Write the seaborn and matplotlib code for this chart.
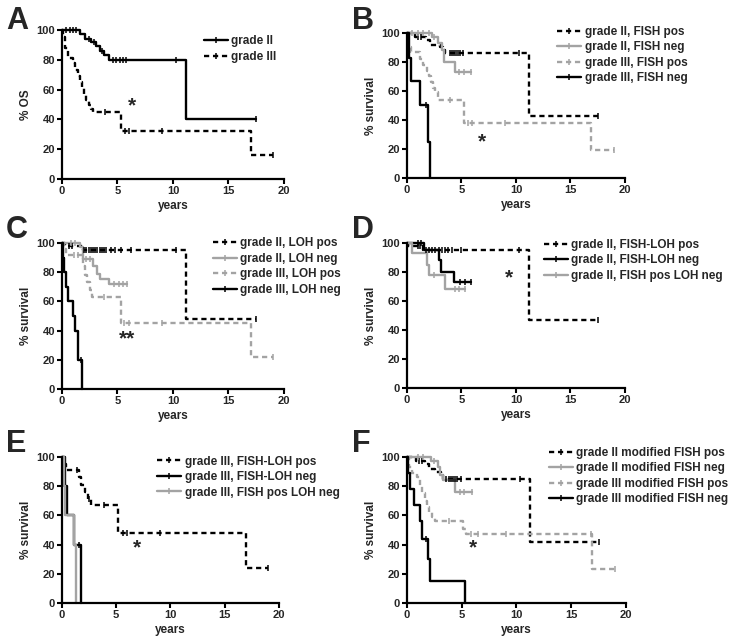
import numpy as np
import matplotlib
matplotlib.use('Agg')
import matplotlib.pyplot as plt
from matplotlib.lines import Line2D
import seaborn as sns

# ---- Panel A ----
a_g2_t = [0, 1.6, 2.1, 2.6, 3.1, 3.4, 3.8, 4.2, 11.2]
a_g2_s = [100, 97, 94, 92, 89, 86, 83, 80, 40]
a_g2_c = [0.4, 0.7, 1.0, 1.3, 2.4, 2.9, 3.6, 4.6, 4.9, 5.2, 5.5, 5.8, 10.3, 17.5]
a_g3_t = [0, 0.1, 0.3, 0.5, 1.0, 1.2, 1.4, 1.6, 1.8, 2.0, 2.2, 2.4, 2.6, 2.8, 5.3, 17.0]
a_g3_s = [100, 95, 88, 81, 78, 73, 69, 65, 61, 57, 53, 50, 47, 45, 32, 16]
a_g3_c = [3.9, 5.7, 6.0, 9.0, 19.0]

# ---- Panel B ----
b_g2pos_t = [0, 0.7, 1.7, 2.1, 3.0, 3.3, 3.5, 11.2]
b_g2pos_s = [100, 97, 95, 92, 90, 88, 86, 43]
b_g2pos_c = [1.0, 1.3, 3.9, 4.1, 4.3, 4.5, 4.7, 4.9, 5.1, 10.3, 17.5]
b_g2neg_t = [0, 2.3, 2.8, 3.2, 3.4, 4.4]
b_g2neg_s = [100, 97, 93, 88, 80, 73]
b_g2neg_c = [0.5, 1.0, 1.5, 2.0, 2.5, 4.8, 5.2, 5.9]
b_g3pos_t = [0, 0.1, 0.4, 1.2, 1.5, 1.8, 2.0, 2.2, 2.4, 2.6, 2.8, 5.2, 16.9]
b_g3pos_s = [100, 90, 87, 82, 78, 74, 70, 66, 62, 59, 54, 38, 19]
b_g3pos_c = [3.9, 5.6, 6.0, 9.0, 19.0]
b_g3neg_t = [0, 0.15, 0.4, 1.2, 1.9, 2.1]
b_g3neg_s = [100, 83, 67, 50, 25, 0]
b_g3neg_c = [1.7]

# ---- Panel C ----
c_g2pos_t = [0, 0.3, 1.9, 11.2]
c_g2pos_s = [100, 98, 95, 48]
c_g2pos_c = [0.6, 0.9, 2.0, 2.2, 2.4, 2.6, 2.8, 3.0, 3.2, 3.4, 3.6, 3.8, 4.0, 4.4, 4.8, 5.3, 6.2, 10.3, 17.5]
c_g2neg_t = [0, 1.6, 1.9, 2.8, 3.2, 3.4, 4.2]
c_g2neg_s = [100, 97, 89, 84, 79, 75, 72]
c_g2neg_c = [0.8, 1.2, 2.2, 2.5, 4.7, 5.1, 5.5, 5.9]
c_g3pos_t = [0, 0.2, 0.4, 1.9, 2.1, 2.3, 2.5, 2.7, 5.3, 17.0]
c_g3pos_s = [100, 96, 92, 84, 78, 73, 68, 63, 45, 22]
c_g3pos_c = [1.1, 1.4, 3.8, 5.6, 6.0, 9.0, 19.0]
c_g3neg_t = [0, 0.1, 0.2, 0.35, 0.5, 1.0, 1.2, 1.4, 1.85]
c_g3neg_s = [100, 90, 80, 70, 60, 50, 40, 20, 0]
c_g3neg_c = [1.7]

# ---- Panel D ----
d_pos_t = [0, 0.05, 1.5, 11.2]
d_pos_s = [100, 98, 95, 47]
d_pos_c = [1.0, 1.2, 1.7, 2.0, 2.3, 2.6, 2.9, 3.2, 3.5, 3.8, 4.1, 5.0, 10.3, 17.5]
d_neg_t = [0, 1.6, 2.9, 3.1, 4.3]
d_neg_s = [100, 95, 88, 80, 73]
d_neg_c = [1.0, 1.3, 4.9, 5.3, 5.9]
d_mix_t = [0, 0.5, 1.8, 2.0, 3.5]
d_mix_s = [100, 93, 85, 78, 68]
d_mix_c = [2.5, 4.4, 4.8, 5.3]

# ---- Panel E ----
e_pos_t = [0, 0.2, 0.4, 1.6, 1.8, 2.1, 2.4, 2.7, 5.2, 17.0]
e_pos_s = [100, 95, 91, 86, 81, 76, 71, 67, 48, 24]
e_pos_c = [1.4, 2.5, 3.9, 5.6, 6.0, 9.0, 19.0]
e_neg_t = [0, 0.3, 0.5, 1.1, 1.8]
e_neg_s = [100, 80, 60, 40, 0]
e_neg_c = [1.6]
e_mix_t = [0, 0.15, 0.25, 1.1, 1.3]
e_mix_s = [100, 80, 60, 40, 0]
e_mix_c = []

# ---- Panel F ----
f_g2pos_t = [0, 0.8, 1.6, 2.0, 2.6, 3.1, 3.3, 11.2]
f_g2pos_s = [100, 97, 95, 92, 90, 88, 85, 42]
f_g2pos_c = [1.1, 1.4, 3.6, 3.8, 4.0, 4.2, 4.4, 4.6, 4.9, 10.3, 17.5]
f_g2neg_t = [0, 2.2, 2.8, 3.0, 3.3, 4.4]
f_g2neg_s = [100, 97, 93, 88, 84, 76]
f_g2neg_c = [1.0, 1.5, 2.5, 4.8, 5.2, 5.9]
f_g3pos_t = [0, 0.2, 0.5, 0.9, 1.2, 1.4, 1.6, 1.8, 2.0, 2.3, 2.6, 5.1, 5.4, 16.9]
f_g3pos_s = [100, 93, 89, 86, 80, 75, 70, 66, 62, 59, 56, 51, 47, 23]
f_g3pos_c = [3.8, 5.8, 6.5, 9.0, 16.8, 19.0]
f_g3neg_t = [0, 0.1, 0.3, 0.6, 1.2, 1.4, 1.9, 2.1, 5.3]
f_g3neg_s = [100, 89, 78, 67, 56, 44, 30, 15, 0]
f_g3neg_c = [1.7]

BLACK = '#000000'
GREY = '#a3a3a3'
DASH = (0, (2.2, 1.6))

panels = [
    ('A', '% OS', [0.085, 0.7216, 0.3045, 0.2317], (0.64, 0.965), (6.3, 49, '*'), [
        ('grade II', a_g2_t, a_g2_s, a_g2_c, BLACK, '-'),
        ('grade III', a_g3_t, a_g3_s, a_g3_c, BLACK, DASH)]),
    ('B', '% survival', [0.5583, 0.7232, 0.299, 0.2255], (0.69, 1.05), (6.9, 25, '*'), [
        ('grade II, FISH pos', b_g2pos_t, b_g2pos_s, b_g2pos_c, BLACK, DASH),
        ('grade II, FISH neg', b_g2neg_t, b_g2neg_s, b_g2neg_c, GREY, '-'),
        ('grade III, FISH pos', b_g3pos_t, b_g3pos_s, b_g3pos_c, GREY, DASH),
        ('grade III, FISH neg', b_g3neg_t, b_g3neg_s, b_g3neg_c, BLACK, '-')]),
    ('C', '% survival', [0.085, 0.395, 0.3045, 0.2271], (0.68, 1.04), (5.9, 34, '**'), [
        ('grade II, LOH pos', c_g2pos_t, c_g2pos_s, c_g2pos_c, BLACK, DASH),
        ('grade II, LOH neg', c_g2neg_t, c_g2neg_s, c_g2neg_c, GREY, '-'),
        ('grade III, LOH pos', c_g3pos_t, c_g3pos_s, c_g3pos_c, GREY, DASH),
        ('grade III, LOH neg', c_g3neg_t, c_g3neg_s, c_g3neg_c, BLACK, '-')]),
    ('D', '% survival', [0.5583, 0.3966, 0.299, 0.2255], (0.63, 1.03), (9.4, 76, '*'), [
        ('grade II, FISH-LOH pos', d_pos_t, d_pos_s, d_pos_c, BLACK, DASH),
        ('grade II, FISH-LOH neg', d_neg_t, d_neg_s, d_neg_c, BLACK, '-'),
        ('grade II, FISH pos LOH neg', d_mix_t, d_mix_s, d_mix_c, GREY, '-')]),
    ('E', '% survival', [0.085, 0.0622, 0.2977, 0.2271], (0.44, 1.01), (6.9, 38, '*'), [
        ('grade III, FISH-LOH pos', e_pos_t, e_pos_s, e_pos_c, BLACK, DASH),
        ('grade III, FISH-LOH neg', e_neg_t, e_neg_s, e_neg_c, BLACK, '-'),
        ('grade III, FISH pos LOH neg', e_mix_t, e_mix_s, e_mix_c, GREY, '-')]),
    ('F', '% survival', [0.5583, 0.0622, 0.3004, 0.2271], (0.65, 1.07), (6.0, 38, '*'), [
        ('grade II modified FISH pos', f_g2pos_t, f_g2pos_s, f_g2pos_c, BLACK, DASH),
        ('grade II modified FISH neg', f_g2neg_t, f_g2neg_s, f_g2neg_c, GREY, '-'),
        ('grade III modified FISH pos', f_g3pos_t, f_g3pos_s, f_g3pos_c, GREY, DASH),
        ('grade III modified FISH neg', f_g3neg_t, f_g3neg_s, f_g3neg_c, BLACK, '-')]),
]

letter_pos = {'A': (0.008, 0.99), 'B': (0.483, 0.99), 'C': (0.008, 0.665),
              'D': (0.483, 0.665), 'E': (0.008, 0.333), 'F': (0.483, 0.333)}

sns.set_theme(style='ticks')
plt.rcParams['font.family'] = ['Liberation Sans', 'DejaVu Sans']
plt.rcParams['font.weight'] = 'bold'
plt.rcParams['axes.labelweight'] = 'bold'


def surv_at(t, times, surv):
    i = np.searchsorted(times, t, side='right') - 1
    return surv[max(i, 0)]


fig = plt.figure(figsize=(7.29, 6.43), dpi=100)

for letter, ylab, rect, leg_xy, star, curves in panels:
    ax = fig.add_axes(rect)
    handles = []
    labels = []
    for label, times, surv, cens, color, ls in curves:
        xs = list(times)
        ys = list(surv)
        # extend the last step out to the final censored patient
        if cens and surv[-1] > 0 and max(cens) > times[-1]:
            xs.append(max(cens))
            ys.append(surv[-1])
        sns.lineplot(x=xs, y=ys, ax=ax, color=color, linewidth=1.7, linestyle=ls,
                     drawstyle='steps-post', estimator=None, sort=False,
                     legend=False, clip_on=False)
        if cens:
            cy = [surv_at(c, times, surv) for c in cens]
            sns.scatterplot(x=cens, y=cy, ax=ax, marker='|', s=14, color=color,
                            linewidth=1.1, legend=False, clip_on=False, zorder=3)
        handles.append(Line2D([], [], color=color, linewidth=1.7, linestyle=ls,
                              marker='|', markersize=4, markeredgewidth=1.1))
        labels.append(label)

    ax.set_xlim(0, 20)
    ax.set_ylim(0, 100)
    ax.set_xticks([0, 5, 10, 15, 20])
    ax.set_yticks([0, 20, 40, 60, 80, 100])
    ax.set_xlabel('years', fontsize=8.5, fontweight='bold', labelpad=3)
    ax.set_ylabel(ylab, fontsize=8.5, fontweight='bold', labelpad=3)
    ax.tick_params(axis='both', labelsize=8, width=1.5, length=3.5, pad=1.5, color='black')
    for lab in ax.get_xticklabels() + ax.get_yticklabels():
        lab.set_fontweight('bold')
    sns.despine(ax=ax)
    for side in ['left', 'bottom']:
        ax.spines[side].set_linewidth(1.6)
        ax.spines[side].set_color('black')

    ax.text(star[0], star[1], star[2], fontsize=15, fontweight='bold',
            ha='center', va='center')

    ax.legend(handles, labels, loc='upper left', bbox_to_anchor=leg_xy,
              frameon=False, handlelength=2.0, handletextpad=0.3,
              labelspacing=0.3, borderpad=0, borderaxespad=0, numpoints=1,
              prop={'weight': 'bold', 'size': 8.5})

    fig.text(letter_pos[letter][0], letter_pos[letter][1], letter, fontsize=22,
             fontweight='bold', ha='left', va='top')

fig.savefig('out.png', dpi=100)
plt.close(fig)
